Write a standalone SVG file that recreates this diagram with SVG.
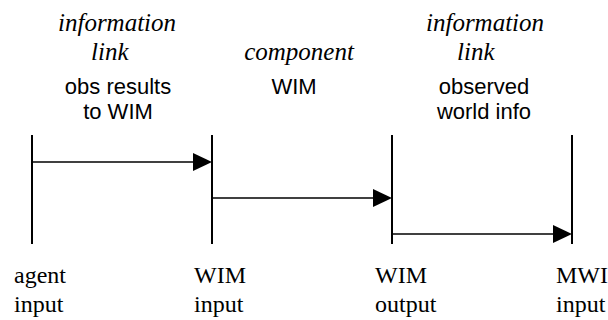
<svg xmlns="http://www.w3.org/2000/svg" width="608" height="320" viewBox="0 0 608 320">
<style>
.it{font-family:"Liberation Serif","Times New Roman",serif;font-style:italic;font-size:25px;fill:#000}
.sa{font-family:"Liberation Sans",Arial,sans-serif;font-size:22px;fill:#000;text-anchor:middle}
.rm{font-family:"Liberation Serif","Times New Roman",serif;font-size:24px;fill:#000}
.v{stroke:#000;stroke-width:2;fill:none}
.h{stroke:#000;stroke-width:1.5;fill:none}
</style>
<rect width="608" height="320" fill="#fff"/>
<g id="link1">
<text class="it" x="58" y="31">information</text>
<text class="it" x="91" y="60">link</text>
<text class="sa" x="118" y="94">obs results</text>
<text class="sa" x="118" y="119">to WIM</text>
</g>
<g id="compWIM">
<text class="it" x="299" y="60" text-anchor="middle">component</text>
<text class="sa" x="294" y="94">WIM</text>
</g>
<g id="link2">
<text class="it" x="426" y="31">information</text>
<text class="it" x="457" y="60">link</text>
<text class="sa" x="484" y="94">observed</text>
<text class="sa" x="484" y="119">world info</text>
</g>
<g id="agentInput">
<line class="v" x1="32" y1="135" x2="32" y2="244"/>
<text class="rm" x="14" y="283">agent</text>
<text class="rm" x="14" y="312">input</text>
</g>
<g id="wimInput">
<line class="v" x1="212" y1="135" x2="212" y2="244"/>
<text class="rm" x="194" y="283">WIM</text>
<text class="rm" x="194" y="312">input</text>
</g>
<g id="wimOutput">
<line class="v" x1="392" y1="135" x2="392" y2="244"/>
<text class="rm" x="375" y="283">WIM</text>
<text class="rm" x="375" y="312">output</text>
</g>
<g id="mwiInput">
<line class="v" x1="572" y1="135" x2="572" y2="244"/>
<text class="rm" x="556" y="283">MWI</text>
<text class="rm" x="556" y="312">input</text>
</g>
<g id="connectors">
<line class="h" x1="32" y1="162" x2="195" y2="162"/>
<polygon points="212,162 193,153 193,171" fill="#000"/>
<line class="h" x1="212" y1="198" x2="375" y2="198"/>
<polygon points="392,198 373,189 373,207" fill="#000"/>
<line class="h" x1="392" y1="234" x2="555" y2="234"/>
<polygon points="572,234 553,225 553,243" fill="#000"/>
</g>
</svg>
